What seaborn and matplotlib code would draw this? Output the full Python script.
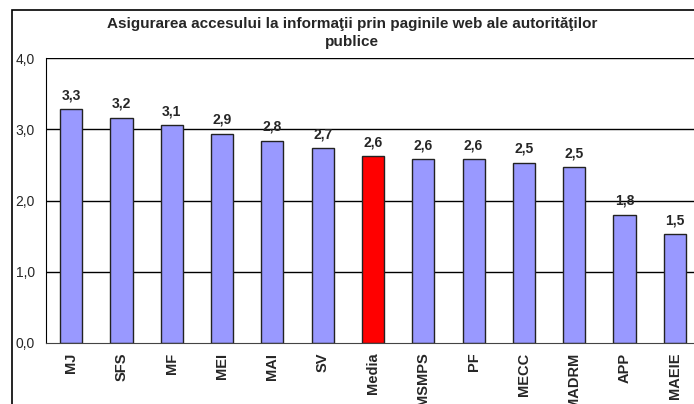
import matplotlib
matplotlib.use('Agg')
import matplotlib.pyplot as plt
import seaborn as sns
import pandas as pd
from matplotlib.patches import Rectangle
from matplotlib.ticker import FixedLocator, FuncFormatter

# data
categories = ['MJ', 'SFS', 'MF', 'MEI', 'MAI', 'SV', 'Media', 'MSMPS',
              'PF', 'MECC', 'MADRM', 'APP', 'MAEIE']
scores = [3.28, 3.16, 3.06, 2.94, 2.84, 2.73, 2.62, 2.58, 2.58, 2.53, 2.47, 1.80, 1.53]
highlight = 'Media'

title = "Asigurarea accesului la informaţii prin paginile web ale autorităţilor\npublice"

sns.set_style('white')
plt.rcParams['font.family'] = ['Liberation Sans', 'DejaVu Sans']

df = pd.DataFrame({'cat': categories, 'score': scores})
colors = {c: ('#FF0000' if c == highlight else '#9999FF') for c in categories}

fig = plt.figure(figsize=(6.94, 4.04), dpi=100)
# outer chart border (runs off the right/bottom edge like the original)
fig.patches.append(Rectangle((12 / 694, -0.1), 1.2, (404 - 10) / 404 + 0.1,
                             transform=fig.transFigure, fill=False,
                             edgecolor='black', linewidth=1.2))

ax = fig.add_axes([46 / 694, 61 / 404, 654 / 694, 285 / 404])
sns.barplot(data=df, x='cat', y='score', hue='cat', palette=colors, legend=False,
            saturation=1, width=0.44, edgecolor='#222222', linewidth=1.0, ax=ax)

ax.set_xlim(-0.5, len(categories) - 0.5)
ax.set_ylim(0, 4)
ax.set_yticks([0, 1, 2, 3, 4])
ax.yaxis.set_major_formatter(FuncFormatter(lambda v, p: f"{v:.1f}".replace('.', ',')))
for y in [1, 2, 3, 4]:
    ax.axhline(y, color='black', linewidth=1.0, zorder=0)

ax.xaxis.set_minor_locator(FixedLocator([i + 0.5 for i in range(-1, len(categories))]))
ax.tick_params(axis='x', which='major', length=0, pad=7)
ax.tick_params(axis='x', which='minor', length=5, width=1, color='#444444')
ax.tick_params(axis='y', length=5, width=1, color='#444444', labelsize=10, pad=3)
plt.setp(ax.get_xticklabels(), rotation=90, fontweight='bold', fontsize=10.5)
ax.set_xlabel('')
ax.set_ylabel('')

for s in ['top', 'right']:
    ax.spines[s].set_visible(False)
ax.spines['left'].set_color('black')
ax.spines['bottom'].set_color('#444444')

for i, v in enumerate(scores):
    ax.annotate(f"{v:.1f}".replace('.', ','), (i, v), xytext=(0, 5),
                textcoords='offset points', ha='center', va='bottom',
                fontsize=10, fontweight='bold')

fig.text(352 / 694, 1 - 33 / 404, title, ha='center', va='center',
         fontsize=11, fontweight='bold', linespacing=1.3)

fig.savefig('out.png', dpi=100)
